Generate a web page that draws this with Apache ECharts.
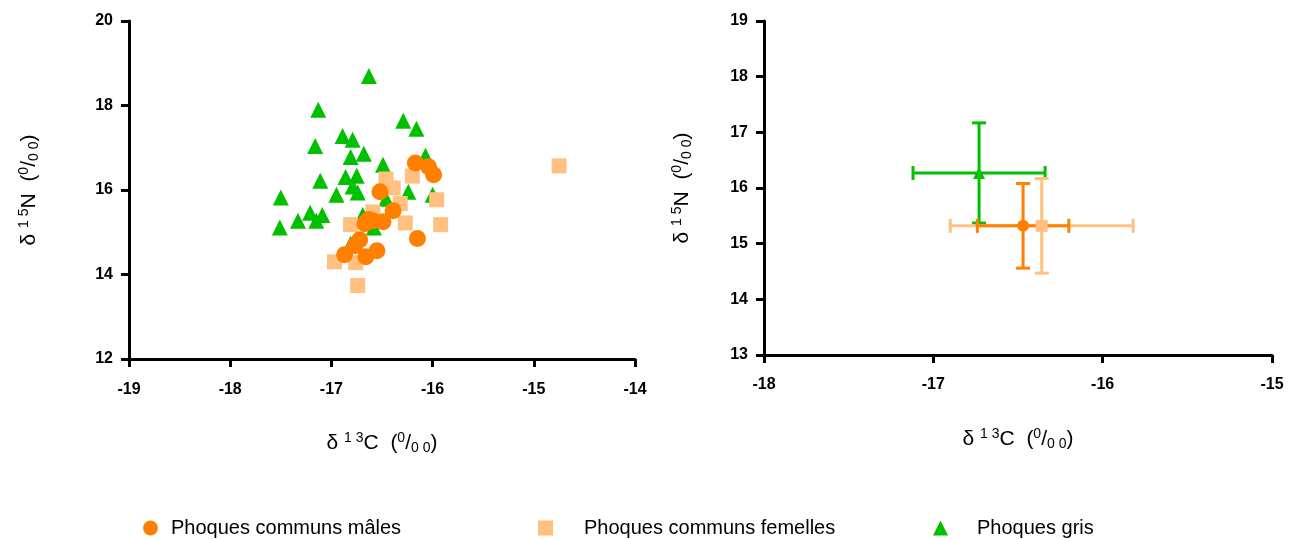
<!DOCTYPE html>
<html>
<head>
<meta charset="utf-8">
<script src="https://cdn.jsdelivr.net/npm/echarts@6/dist/echarts.min.js"></script>
<style>
  html, body { margin: 0; padding: 0; background: #fff; }
  #chart { width: 1289px; height: 539px; }
</style>
</head>
<body>
<div id="chart"></div>
<script>
// series names
const names = ['Phoques communs mâles', 'Phoques communs femelles', 'Phoques gris'];
const colors = ['#ff8000', '#ffc080', '#00c000'];

// left panel: [d13C, d15N]
const males = [
  [-16.17, 16.64], [-16.04, 16.55], [-15.99, 16.36], [-16.52, 15.96], [-16.39, 15.51],
  [-16.63, 15.30], [-16.59, 15.27], [-16.49, 15.25], [-16.67, 15.20], [-16.72, 14.82],
  [-16.77, 14.68], [-16.87, 14.47], [-16.66, 14.42], [-16.55, 14.56], [-16.15, 14.85]
];
const females = [
  [-14.75, 16.57], [-16.46, 16.26], [-16.20, 16.33], [-16.39, 16.05], [-15.96, 15.77],
  [-16.32, 15.68], [-16.59, 15.48], [-16.81, 15.18], [-16.27, 15.22], [-15.92, 15.18],
  [-16.97, 14.30], [-16.76, 14.28], [-16.74, 13.74]
];
const greys = [
  [-16.63, 18.70], [-17.13, 17.90], [-17.16, 17.04], [-16.89, 17.28], [-16.79, 17.19],
  [-16.81, 16.78], [-16.68, 16.86], [-16.29, 17.64], [-16.16, 17.45], [-17.11, 16.22],
  [-16.86, 16.31], [-16.75, 16.34], [-16.49, 16.60], [-16.07, 16.81], [-17.50, 15.82],
  [-16.95, 15.89], [-16.79, 16.08], [-16.74, 15.94], [-17.21, 15.46], [-17.09, 15.41],
  [-17.15, 15.27], [-17.33, 15.27], [-17.51, 15.11], [-16.46, 15.79], [-16.24, 15.96],
  [-16.00, 15.89], [-16.58, 15.11], [-16.81, 14.73], [-16.69, 15.41]
];

// right panel: means and SD
const meanC = [-16.47, -16.36, -16.73];
const meanN = [15.32, 15.32, 16.27];
const sdC = [0.27, 0.54, 0.39];
const sdN = [0.76, 0.85, 0.90];

const font = 'Liberation Sans, Arial, sans-serif';

function axisCommon(min, max, interval, margin) {
  return {
    min: min, max: max, interval: interval,
    axisLine: { onZero: false, lineStyle: { color: '#000', width: 3 } },
    axisTick: { inside: false, length: 8, lineStyle: { color: '#000', width: 3 } },
    axisLabel: { color: '#000', fontFamily: font, fontWeight: 'bold', fontSize: 16, margin: margin },
    splitLine: { show: false }
  };
}

const nameRich = {
  base: { fontFamily: font, fontSize: 21, color: '#000' },
  sup: { fontFamily: font, fontSize: 14, color: '#000', verticalAlign: 'top', lineHeight: 24 },
  sub: { fontFamily: font, fontSize: 14, color: '#000', verticalAlign: 'bottom', lineHeight: 24 }
};
const nameC = '{base|δ }{sup|1 3}{base|C  (}{sup|0}{base|/}{sub|0 0}{base|)}';
const nameN = '{base|δ }{sup|1 5}{base|N  (}{sup|0}{base|/}{sub|0 0}{base|)}';

function errItem(params, api) {
  const x = api.value(0), y = api.value(1), ex = api.value(2), ey = api.value(3);
  const c = api.coord([x, y]);
  const l = api.coord([x - ex, y]), r = api.coord([x + ex, y]);
  const t = api.coord([x, y + ey]), b = api.coord([x, y - ey]);
  const cap = 7;
  const st = { stroke: api.visual('color'), lineWidth: 3 };
  return {
    type: 'group',
    children: [
      { type: 'line', shape: { x1: l[0], y1: c[1], x2: r[0], y2: c[1] }, style: st },
      { type: 'line', shape: { x1: l[0], y1: c[1] - cap, x2: l[0], y2: c[1] + cap }, style: st },
      { type: 'line', shape: { x1: r[0], y1: c[1] - cap, x2: r[0], y2: c[1] + cap }, style: st },
      { type: 'line', shape: { x1: c[0], y1: t[1], x2: c[0], y2: b[1] }, style: st },
      { type: 'line', shape: { x1: c[0] - cap, y1: t[1], x2: c[0] + cap, y2: t[1] }, style: st },
      { type: 'line', shape: { x1: c[0] - cap, y1: b[1], x2: c[0] + cap, y2: b[1] }, style: st }
    ]
  };
}

const symbols = ['circle', 'rect', 'path://M0,-10 L10,8 L-10,8 Z'];
const leftSizes = [17, 15, 16];
const leftData = [males, females, greys];

const series = [];
// left scatter: greys bottom, then females, then males
[2, 1, 0].forEach(function (i) {
  series.push({
    name: names[i], type: 'scatter', xAxisIndex: 0, yAxisIndex: 0,
    symbol: symbols[i], symbolSize: leftSizes[i],
    itemStyle: { color: colors[i], opacity: 1 },
    data: leftData[i]
  });
});
// right: error bars + means
[2, 1, 0].forEach(function (i) {
  series.push({
    name: 'err' + i, type: 'custom', xAxisIndex: 1, yAxisIndex: 1,
    renderItem: errItem, itemStyle: { color: colors[i] },
    data: [[meanC[i], meanN[i], sdC[i], sdN[i]]], z: 2
  });
});
[2, 1, 0].forEach(function (i) {
  series.push({
    name: 'mean' + i, type: 'scatter', xAxisIndex: 1, yAxisIndex: 1,
    symbol: symbols[i], symbolSize: 12,
    itemStyle: { color: colors[i], opacity: 1 }, z: 3,
    data: [[meanC[i], meanN[i]]]
  });
});

const legendLeft = [138, 533, 928];
const legendPad = [8, 26, 24];
const legendIcons = ['circle', 'rect', 'triangle'];
const legends = names.map(function (n, i) {
  return {
    data: [{ name: n, icon: legendIcons[i] }],
    left: legendLeft[i], top: 513,
    itemWidth: 15, itemHeight: 15,
    selectedMode: false,
    textStyle: { fontFamily: font, fontSize: 20, color: '#000', padding: [0, 0, 0, legendPad[i]] }
  };
});

const chart = echarts.init(document.getElementById('chart'));
chart.setOption({
  backgroundColor: '#fff',
  animation: false,
  legend: legends,
  grid: [
    { left: 129, top: 21, width: 506, height: 338 },
    { left: 764, top: 21, width: 508, height: 334 }
  ],
  xAxis: [
    Object.assign(axisCommon(-19, -14, 1, 23), {
      gridIndex: 0, name: nameC, nameLocation: 'middle', nameGap: 72,
      nameTextStyle: { rich: nameRich }
    }),
    Object.assign(axisCommon(-18, -15, 1, 22), {
      gridIndex: 1, name: nameC, nameLocation: 'middle', nameGap: 72,
      nameTextStyle: { rich: nameRich }
    })
  ],
  yAxis: [
    Object.assign(axisCommon(12, 20, 2, 16), {
      gridIndex: 0, name: nameN, nameLocation: 'middle', nameGap: 88,
      nameTextStyle: { rich: nameRich }
    }),
    Object.assign(axisCommon(13, 19, 1, 16), {
      gridIndex: 1, name: nameN, nameLocation: 'middle', nameGap: 70,
      nameTextStyle: { rich: nameRich }
    })
  ],
  series: series
});
</script>
</body>
</html>
